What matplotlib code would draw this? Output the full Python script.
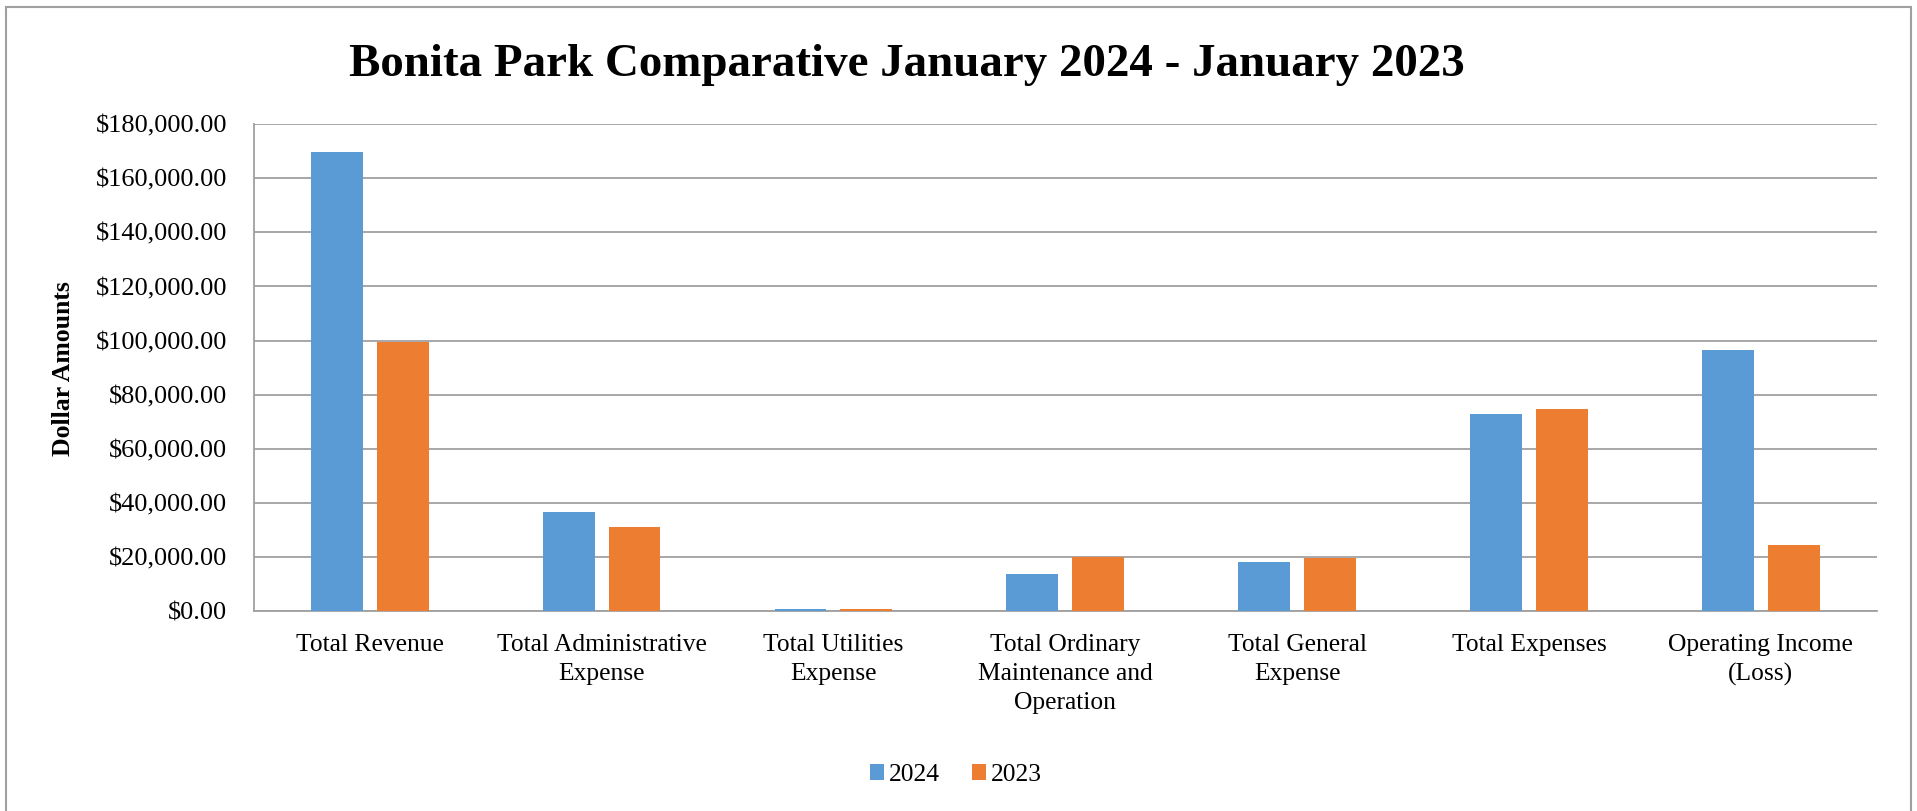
import numpy as np
import matplotlib
matplotlib.use('Agg')
import matplotlib.pyplot as plt
from matplotlib.patches import Rectangle
from matplotlib.ticker import FuncFormatter, MultipleLocator

plt.rcParams['font.family'] = ['Liberation Serif', 'DejaVu Serif']

# 数据
categories = ['Total Revenue', 'Total Administrative\nExpense', 'Total Utilities\nExpense',
              'Total Ordinary\nMaintenance and\nOperation', 'Total General\nExpense',
              'Total Expenses', 'Operating Income\n(Loss)']
values_2024 = [169650, 36500, 800, 13900, 18300, 72800, 96700]
values_2023 = [99400, 31300, 750, 20100, 19700, 74800, 24500]
series_names = ['2024', '2023']

blue = '#5B9BD5'
orange = '#ED7D31'
grid_color = '#A0A0A0'

fig = plt.figure(figsize=(19.17, 8.11), dpi=100)
ax = fig.add_axes([253.8 / 1917, 1 - 611.3 / 811, (1876.7 - 253.8) / 1917, (611.3 - 124) / 811])

x = np.arange(len(categories))
w = 0.224
off = 0.142
ax.bar(x - off, values_2024, w, color=blue, label=series_names[0], zorder=3)
ax.bar(x + off, values_2023, w, color=orange, label=series_names[1], zorder=3)

ax.set_xlim(-0.5, len(categories) - 0.5)
ax.set_ylim(0, 180000)
ax.yaxis.set_major_locator(MultipleLocator(20000))
ax.yaxis.set_major_formatter(FuncFormatter(lambda v, p: '${:,.2f}'.format(v)))
ax.grid(axis='y', color=grid_color, linewidth=1.3, zorder=0)
ax.set_xticks(x)
ax.set_xticklabels(categories, fontsize=18.4, linespacing=1.42)
ax.tick_params(axis='x', length=0, pad=16)
ax.tick_params(axis='y', length=0, pad=19, labelsize=19)
for s in ['top', 'right']:
    ax.spines[s].set_visible(False)
for s in ['left', 'bottom']:
    ax.spines[s].set_color(grid_color)
    ax.spines[s].set_linewidth(1.3)

# 标题和y轴标签
fig.text(907 / 1917, 1 - 76 / 811, 'Bonita Park Comparative January 2024 - January 2023',
         fontsize=33.8, fontweight='bold', ha='center', va='baseline')
fig.text(63 / 1917, 1 - 369 / 811, 'Dollar Amounts', fontsize=18.5, fontweight='bold',
         rotation=90, ha='center', va='center')

# 图例
fig.legend(loc='center', bbox_to_anchor=(956 / 1917, 1 - 775 / 811), ncol=2, frameon=False,
           fontsize=18.4, handlelength=0.55, handleheight=0.55, handletextpad=0.2,
           columnspacing=1.25)

# 外边框
fig.patches.append(Rectangle((6 / 1917, -0.05), (1911 - 6) / 1917, 1.05 - 7 / 811,
                             transform=fig.transFigure, figure=fig, fill=False,
                             edgecolor=grid_color, linewidth=1.5))

fig.savefig('out.png', dpi=100)
